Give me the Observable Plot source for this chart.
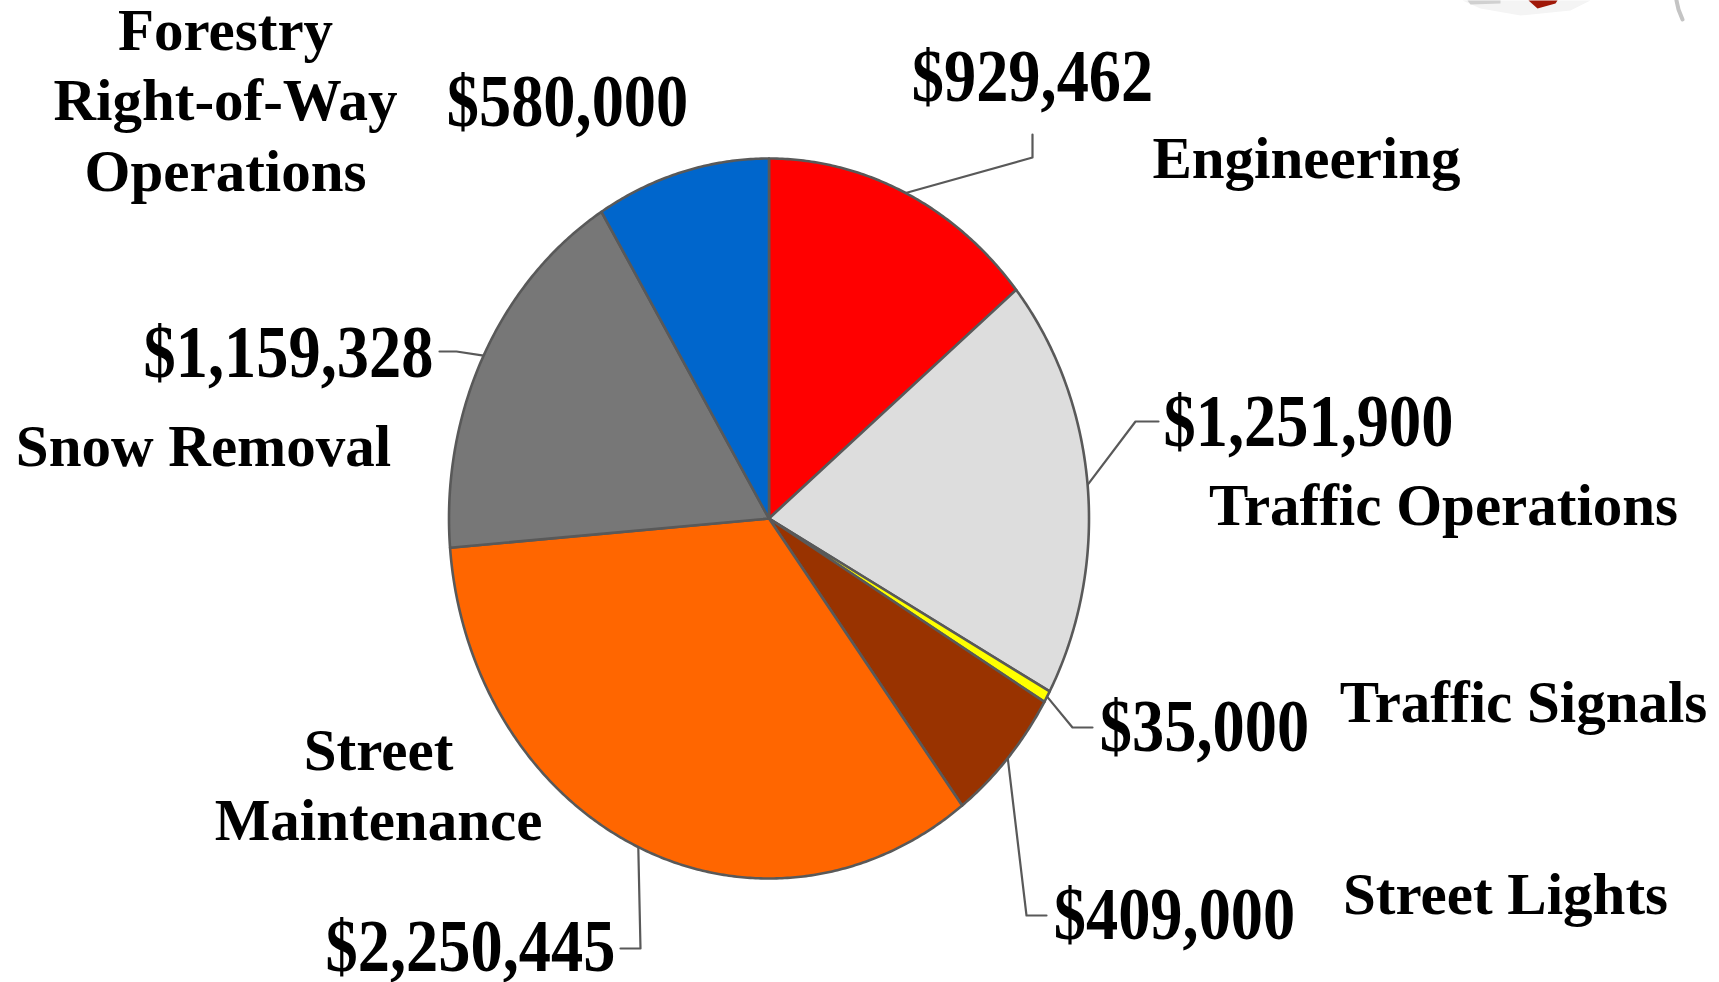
<!DOCTYPE html>
<html>
<head>
<meta charset="utf-8">
<script src="https://cdn.jsdelivr.net/npm/d3@7"></script>
<script src="https://cdn.jsdelivr.net/npm/@observablehq/plot@0.6"></script>
<style>html,body{margin:0;padding:0;background:#fff;overflow:hidden}svg{display:block}</style>
</head>
<body>
<div id="chart"></div>
<script>
const categories = ["Engineering","Traffic Operations","Traffic Signals","Street Lights","Street Maintenance","Snow Removal","Forestry Right-of-Way Operations"];
const amounts = [929462,1251900,35000,409000,2250445,1159328,580000];
const amountLabels = ["$929,462","$1,251,900","$35,000","$409,000","$2,250,445","$1,159,328","$580,000"];
const sliceColors = ["#FF0000","#DDDDDD","#FFFF00","#993300","#FF6600","#777777","#0066CC"];

// layout (page pixels)
const W = 1719, H = 982, cx = 768.5, cy = 518, rx = 320, ry = 360;
const lineColor = "#595959", valueStretch = 1.14;
const valuePos = [[1032,77],[1308,422],[1204,727],[1174,915],[470,947],[288,353],[567,102]];
const leaderBends = [
  [[1032,157],[1032,134]],
  [[1135,421],[1158,421]],
  [[1072,727],[1092,727]],
  [[1026,915],[1046,915]],
  [[640,948],[620,948]],
  [[456,351],[439,351]],
  null
];
const nameLines = [
  ["Engineering",1306,159],
  ["Traffic Operations",1443,506],
  ["Traffic Signals",1523,703],
  ["Street Lights",1505,895],
  ["Street",378,751],
  ["Maintenance",378,821],
  ["Snow Removal",203,447],
  ["Forestry",225,31],
  ["Right-of-Way",225,101],
  ["Operations",225,172]
];
// remnant of clip art cut by the top edge of the picture
const clipPale = [[1462,0],[1590,0],[1570,10],[1520,15],[1480,8]];
const clipGrey = [[1467,0],[1500,0],[1500,3],[1470,4]];
const clipRed = [[1528,0],[1557,0],[1555,3],[1537,8]];
const clipStem = [[1676,0],[1678,9],[1682,19]];

const total = d3.sum(amounts);
const starts = d3.cumsum([0, ...amounts]).map(v => v / total * 2 * Math.PI);
const px = a => cx + rx * Math.sin(a), py = a => cy - ry * Math.cos(a);

const slices = amounts.flatMap((v, i) => {
  const a0 = starts[i], a1 = starts[i + 1];
  const n = Math.max(2, Math.ceil((a1 - a0) * 120));
  const pts = [{x: cx, y: cy}];
  for (let k = 0; k <= n; k++) { const a = a0 + (a1 - a0) * k / n; pts.push({x: px(a), y: py(a)}); }
  pts.push({x: cx, y: cy});
  return pts.map(p => ({...p, name: categories[i], color: sliceColors[i]}));
});

const leaders = amounts.flatMap((v, i) => {
  if (!leaderBends[i]) return [];
  const a = (starts[i] + starts[i + 1]) / 2;
  return [[px(a), py(a)], ...leaderBends[i]].map(([x, y]) => ({x, y, name: categories[i]}));
});

const valueRows = amountLabels.map((t, i) => ({t, x: valuePos[i][0], y: valuePos[i][1]}));
const nameRows = nameLines.map(([t, x, y]) => ({t, x, y}));

const textStyle = {fontFamily: "Liberation Serif", fontWeight: "bold", fill: "#000", lineAnchor: "middle", textAnchor: "middle", stroke: "none"};
const blob = (pts, fill) => Plot.line(pts, {x: d => d[0], y: d => d[1], fill, stroke: "none", curve: "linear"});

const chart = Plot.plot({
  width: W, height: H, margin: 0,
  style: {background: "#fff", overflow: "hidden"},
  x: {domain: [0, W], range: [0, W], axis: null},
  y: {domain: [0, H], range: [0, H], axis: null},
  color: {type: "identity"},
  marks: [
    blob(clipPale, "#f4f4f4"),
    blob(clipGrey, "#d0d0d0"),
    blob(clipRed, "#a01808"),
    Plot.line(clipStem, {x: d => d[0], y: d => d[1], stroke: "#c4c4c4", strokeWidth: 4, curve: "linear"}),
    Plot.line(leaders, {x: "x", y: "y", z: "name", stroke: lineColor, strokeWidth: 2.2, curve: "linear"}),
    Plot.line(slices, {x: "x", y: "y", z: "name", fill: "color", stroke: lineColor, strokeWidth: 2.6, curve: "linear", strokeLinejoin: "round"}),
    Plot.text(valueRows, {x: "x", y: "y", text: "t", fontSize: 64.4, ...textStyle}),
    Plot.text(nameRows, {x: "x", y: "y", text: "t", fontSize: 59, ...textStyle})
  ]
});
d3.select(chart).selectAll("text")
  .filter(function () { return this.textContent.startsWith("$"); })
  .attr("transform", function () { return (this.getAttribute("transform") || "") + ` scale(1,${valueStretch})`; });
document.getElementById("chart").append(chart);
</script>
</body>
</html>
